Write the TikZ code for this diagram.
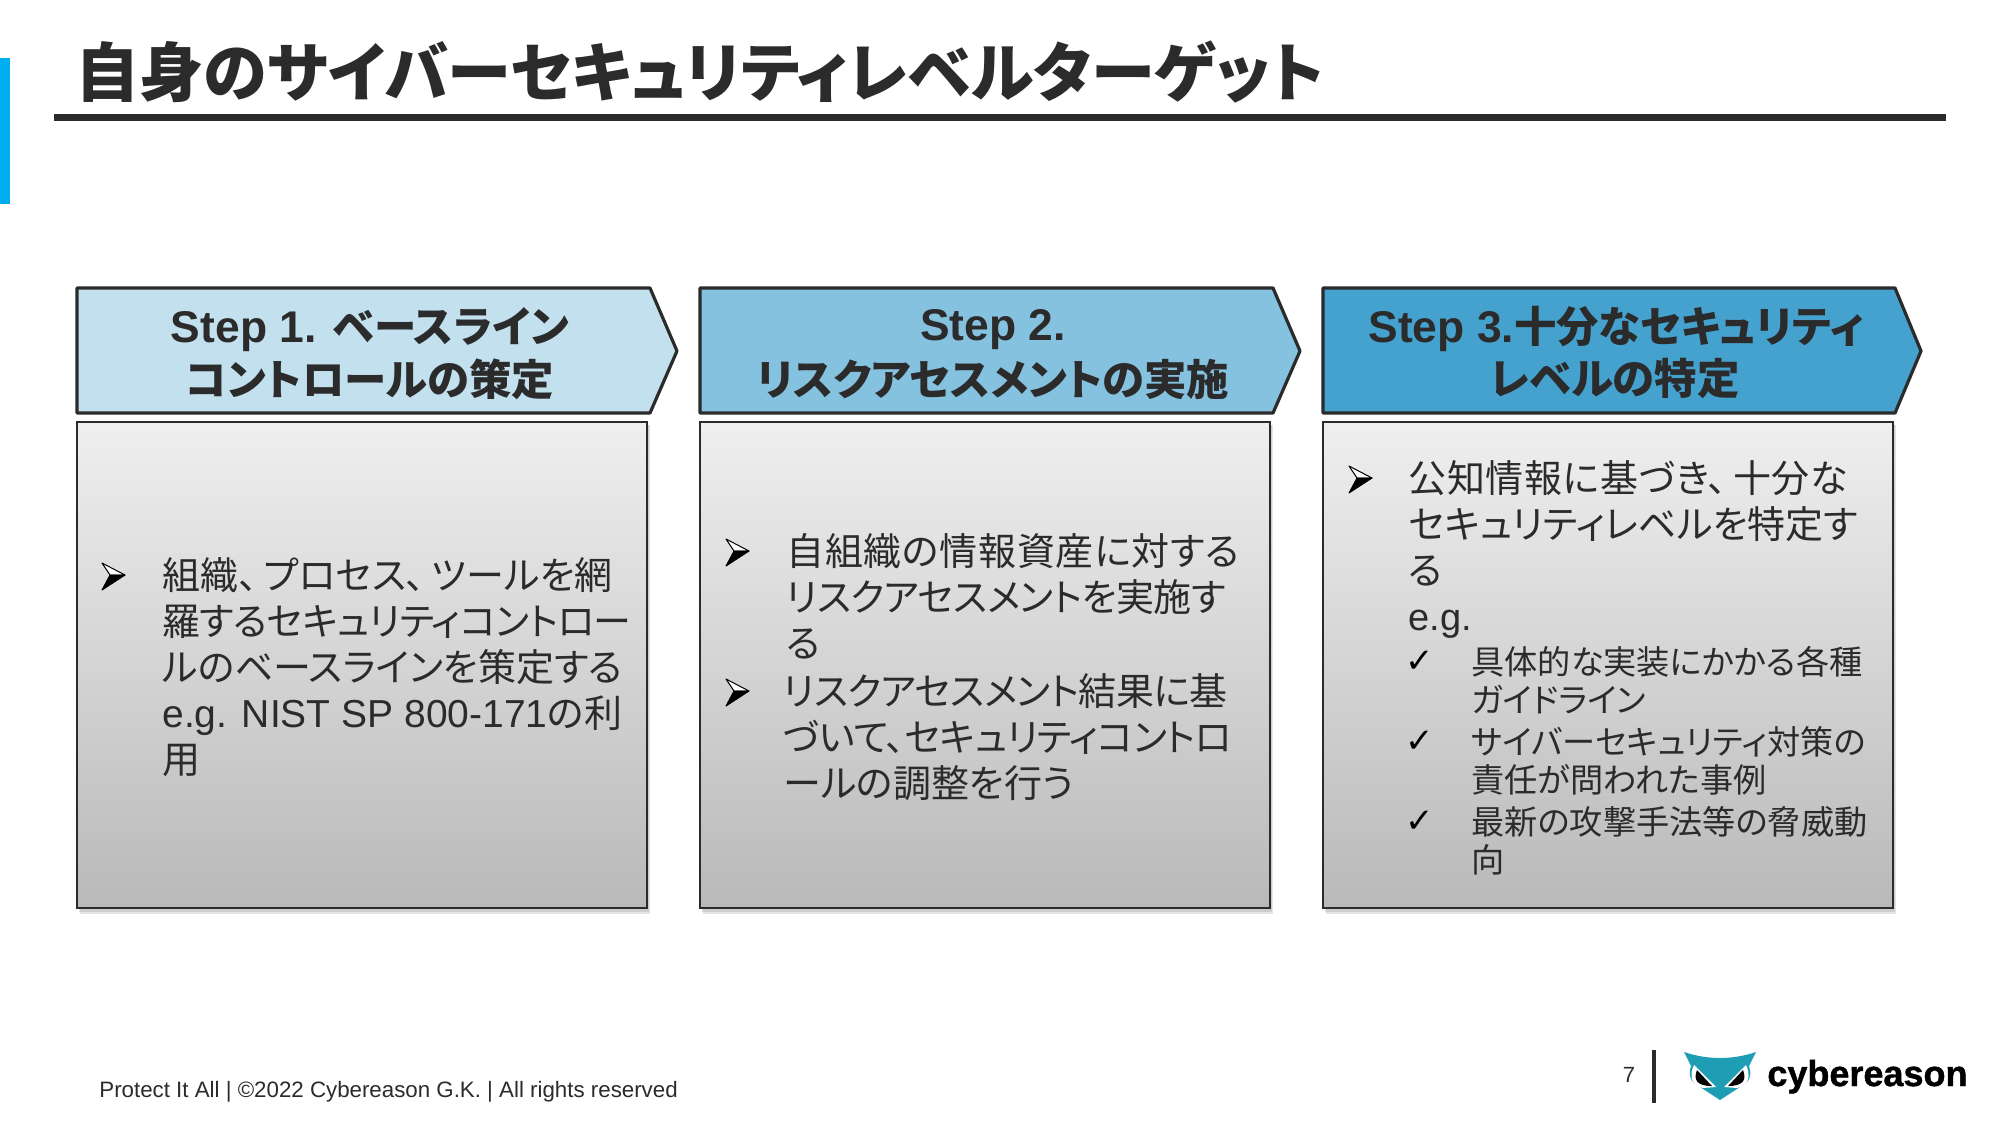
\documentclass[tikz,border=0pt]{standalone}
\usepackage{fontspec}
\setmainfont{Liberation Sans}
\newfontfamily\jpf[RawFeature=+palt]{Noto Sans CJK JP}
\newfontfamily\jpt[RawFeature=+palt,LetterSpace=-1.5]{Noto Sans CJK JP}
\newfontfamily\jpw[RawFeature=+palt,LetterSpace=1.8]{Noto Sans CJK JP}
\newfontfamily\sym{DejaVu Sans}
\newfontfamily\brandf[UprightFont=* Bold,UprightFeatures={FakeBold=1.2}]{Liberation Sans}
\definecolor{ink}{HTML}{2B2B2B}
\definecolor{barblue}{HTML}{00AEEF}
\definecolor{stepa}{HTML}{C3E0EE}
\definecolor{stepb}{HTML}{85C2E0}
\definecolor{stepc}{HTML}{45A2CF}
\definecolor{grayhi}{HTML}{EFEFEF}
\definecolor{graylo}{HTML}{B9B9B9}
\definecolor{owl}{HTML}{1E9DB5}
\newcommand{\jb}[1]{{\jpf\bfseries #1}}
\newcommand{\hj}[1]{{\fontsize{21.2}{26}\selectfont\jpf\bfseries #1}}
\newcommand{\jn}[1]{{\jpf #1}}
\newcommand{\jt}[1]{{\jpt #1}}
\newcommand{\jw}[1]{{\jpw #1}}
\newcommand{\tc}{\kern0.17em\relax}
\tikzset{
  x=0.5pt,y=-0.5pt,
  stepshape/.style={draw=ink,line width=1.6pt,line join=round},
  bodybox/.style={draw=ink,line width=1.4pt,top color=grayhi,bottom color=graylo},
  softshadow/.style={fill=black,fill opacity=0.10,draw=none},
  headtext/.style={inner sep=0pt,anchor=center,align=center,text=ink,font=\fontsize{22.2}{26}\selectfont\bfseries},
  maintext/.style={inner sep=0pt,anchor=north west,align=left,text=ink,font=\fontsize{19}{23}\selectfont},
  subtext/.style={inner sep=0pt,anchor=north west,align=left,text=ink,font=\fontsize{16.6}{19.2}\selectfont},
  tickbullet/.style={inner sep=0pt,text=black,font=\sym\fontsize{17}{17}\selectfont},
  bulletarrow/.pic={
    \filldraw[draw=black,line width=0.5pt,fill=white,line join=round] (-23,-12) -- (0,0) -- (-15,0) -- cycle;
    \filldraw[draw=black,line width=0.5pt,fill=black,line join=round] (-23,15) -- (0,0) -- (-15,0) -- cycle;
  },
}
\begin{document}
\begin{tikzpicture}
\useasboundingbox (0,0) rectangle (2000,1125);
\fill[white] (0,0) rectangle (2000,1125);
% title
\fill[barblue] (0,58) rectangle (10,204);
\node[inner sep=0pt,anchor=west,text=ink,font=\fontsize{32.1}{36}\selectfont] (title) at (75,72) {\jb{自身のサイバーセキュリティレベルターゲット}};
\fill[ink] (54,114) rectangle (1946,121);
% step arrows
\draw[stepshape,fill=stepa] (77,288) -- (650,288) -- (677,351) -- (650,413) -- (77,413) -- cycle;
\draw[stepshape,fill=stepb] (700,288) -- (1273,288) -- (1300,351) -- (1273,413) -- (700,413) -- cycle;
\draw[stepshape,fill=stepc] (1323,288) -- (1895,288) -- (1921,351) -- (1895,413) -- (1323,413) -- cycle;
\node[headtext] (h1a) at (370,330) {Step 1. \hj{ベースライン}};
\node[headtext] (h1b) at (370,379) {\hj{コントロールの策定}};
\node[headtext] (h2a) at (993,330) {Step 2.};
\node[headtext] (h2b) at (993,379) {\hj{リスクアセスメントの実施}};
\node[headtext] (h3a) at (1616,329) {Step 3.\hj{十分なセキュリティ}};
\node[headtext] (h3b) at (1615,379) {\hj{レベルの特定}};
% bodies
\foreach \xa/\xb in {77/647,700/1270,1323/1893}{
  \fill[softshadow] (\xa+3,425) rectangle (\xb+3,914);
  \fill[softshadow] (\xa+2,425) rectangle (\xb+2,912);
  \draw[bodybox] (\xa,422) rectangle (\xb,908);
}
% body 1
\pic at (125,575) {bulletarrow};
\node[maintext] (t1) at (162,557) {\jn{組織、\tc プロセス、\tc ツールを網}\\ \jt{羅するセキュリティコントロー}\\ \jn{ルのベースラインを策定する}\\ {\fontsize{19.5}{23}\selectfont e.g. NIST SP 800-171}\jn{の利}\\ \jn{用}};
% body 2
\pic at (749,551) {bulletarrow};
\node[maintext] (t2) at (786,533) {\jw{自組織の情報資産に対する}\\ \jt{リスクアセスメントを実施す}\\ \jn{る}};
\pic at (749,691) {bulletarrow};
\node[maintext] (t3) at (783,673) {\jt{リスクアセスメント結果に基}\\ \jt{づいて、セキュリティコントロ}\\ \jn{ールの調整を行う}};
% body 3
\pic at (1372,478) {bulletarrow};
\node[maintext] (t4) at (1408,460) {\jw{公知情報に基づき、\tc 十分な}\\ \jn{セキュリティレベルを特定す}\\ \jn{る}\\ e.g.};
\node[tickbullet] (c1) at (1420,662) {✓};
\node[subtext] (s1) at (1471,646) {\jn{具体的な実装にかかる各種}\\ \jn{ガイドライン}};
\node[tickbullet] (c2) at (1420,742) {✓};
\node[subtext] (s2) at (1471,726) {\jn{サイバーセキュリティ対策の}\\ \jn{責任が問われた事例}};
\node[tickbullet] (c3) at (1420,822) {✓};
\node[subtext] (s3) at (1471,806) {\jn{最新の攻撃手法等の脅威動}\\ \jn{向}};
% footer
\node[inner sep=0pt,anchor=west,text=ink,font=\fontsize{11.15}{13}\selectfont] (foot) at (99,1092) {Protect It All | ©2022 Cybereason G.K. | All rights reserved};
\node[inner sep=0pt,text=ink,font=\fontsize{11}{13}\selectfont] (pg) at (1629,1075) {7};
\fill[ink] (1652,1050) rectangle (1656,1103);
% logo
\fill[owl] (1684,1052) .. controls (1708,1060) and (1732,1060) .. (1756,1052) -- (1749,1066) .. controls (1752,1075) and (1750,1082) .. (1740,1087) -- (1720,1100) -- (1700,1087) .. controls (1690,1082) and (1688,1075) .. (1691,1066) -- cycle;
\fill[white] (1694,1065) .. controls (1689,1075) and (1691,1086) .. (1703,1088) -- (1716,1087) -- cycle;
\fill[white] (1746,1065) .. controls (1751,1075) and (1749,1086) .. (1737,1088) -- (1724,1087) -- cycle;
\fill[black] (1697,1070) .. controls (1693,1080) and (1697,1086) .. (1712,1086) -- cycle;
\fill[black] (1743,1070) .. controls (1747,1080) and (1743,1086) .. (1728,1086) -- cycle;
\node[inner sep=0pt,anchor=base west,text=black,font=\fontsize{18}{20}\selectfont\brandf] (brand) at (1767,1086) {cybereason};
\end{tikzpicture}
\end{document}
